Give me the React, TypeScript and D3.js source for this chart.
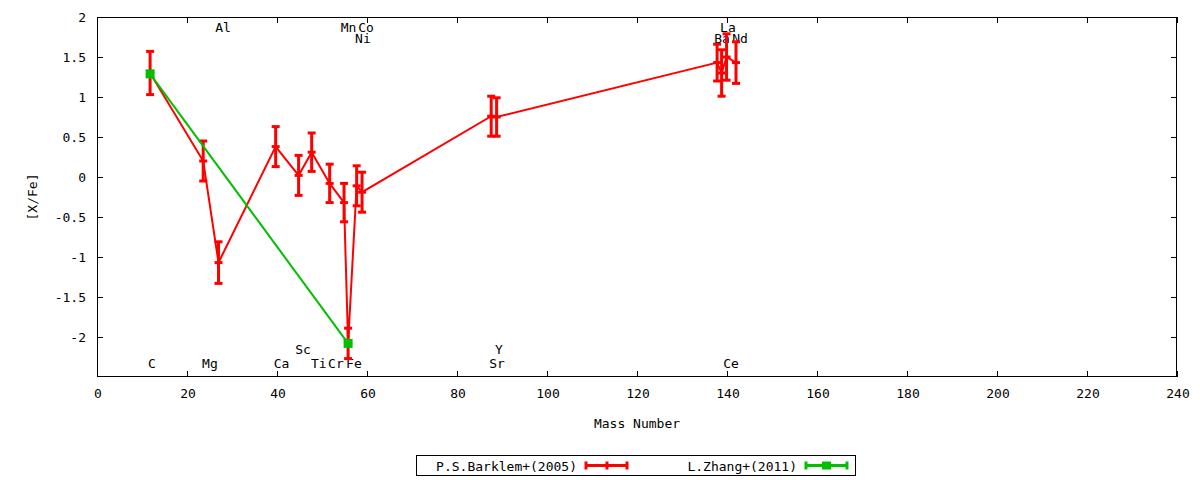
import React, { useEffect, useRef } from 'react';
import * as d3 from 'd3';

// P.S.Barklem+(2005)
const elements = ['C', 'Mg', 'Al', 'Ca', 'Sc', 'Ti', 'Cr', 'Mn', 'Fe', 'Co', 'Ni', 'Sr', 'Y', 'Ba', 'La', 'Ce', 'Nd'];
const barklemMass = [11.8, 23.6, 27.0, 39.7, 44.8, 47.7, 51.7, 54.9, 55.8, 57.7, 58.9, 87.6, 88.8, 137.8, 138.8, 139.9, 142.0];
const barklemValue = [1.30, 0.20, -1.07, 0.38, 0.02, 0.31, -0.08, -0.32, -2.08, -0.11, -0.19, 0.76, 0.75, 1.43, 1.30, 1.50, 1.43];
const barklemError = [0.27, 0.25, 0.26, 0.25, 0.25, 0.24, 0.24, 0.24, 0.19, 0.25, 0.25, 0.25, 0.24, 0.23, 0.29, 0.29, 0.26];

// L.Zhang+(2011)
const zhangMass = [11.8, 55.8];
const zhangValue = [1.29, -2.08];

// element name labels placed in data coordinates
const labelNames = ['C', 'Mg', 'Al', 'Ca', 'Sc', 'Ti', 'Cr', 'Fe', 'Mn', 'Co', 'Ni', 'Sr', 'Y', 'Ba', 'La', 'Nd', 'Ce'];
const labelX = [12.2, 25.1, 28.0, 41.0, 45.8, 49.3, 53.1, 57.1, 55.9, 59.8, 59.1, 88.9, 89.3, 138.9, 140.2, 142.9, 140.9];
const labelY = [-2.33, -2.33, 1.87, -2.33, -2.15, -2.33, -2.33, -2.33, 1.87, 1.87, 1.74, -2.33, -2.15, 1.74, 1.87, 1.74, -2.33];

const xTicks = [0, 20, 40, 60, 80, 100, 120, 140, 160, 180, 200, 220, 240];
const yTicks = [-2, -1.5, -1, -0.5, 0, 0.5, 1, 1.5, 2];

const seriesNames = ['P.S.Barklem+(2005)', 'L.Zhang+(2011)'];
const RED = '#ff0000';
const GREEN = '#00c000';
const FONT = '"DejaVu Sans Mono", monospace';

const App: React.FC = () => {
  const svgRef = useRef<SVGSVGElement>(null);

  useEffect(() => {
    if (!svgRef.current) return;
    const width = 1200;
    const height = 480;
    const margin = { top: 17, right: 23, bottom: 103, left: 97 };

    const svg = d3.select(svgRef.current);
    svg.selectAll('*').remove();

    const x = d3.scaleLinear().domain([0, 240]).range([margin.left, width - margin.right]);
    const y = d3.scaleLinear().domain([-2.5, 2]).range([height - margin.bottom, margin.top]);
    const [x0, x1] = x.range();
    const [y0, y1] = y.range();
    const tick = 6;

    svg.append('rect').attr('width', width).attr('height', height).attr('fill', '#fff');

    // ticks (mirrored, pointing inward)
    const ticks = svg.append('g').attr('stroke', '#000').attr('stroke-width', 1);
    xTicks.forEach(t => {
      const px = Math.round(x(t)) + 0.5;
      ticks.append('line').attr('x1', px).attr('x2', px).attr('y1', y0).attr('y2', y0 - tick);
      ticks.append('line').attr('x1', px).attr('x2', px).attr('y1', y1).attr('y2', y1 + tick);
    });
    yTicks.forEach(t => {
      const py = Math.round(y(t)) + 0.5;
      ticks.append('line').attr('x1', x0).attr('x2', x0 + tick).attr('y1', py).attr('y2', py);
      ticks.append('line').attr('x1', x1).attr('x2', x1 - tick).attr('y1', py).attr('y2', py);
    });

    const text = svg.append('g').attr('font-family', FONT).attr('font-size', 13).attr('fill', '#000');

    xTicks.forEach(t => {
      text.append('text').attr('x', x(t) + 1).attr('y', y0 + 21)
        .attr('text-anchor', 'middle').text(String(t));
    });
    yTicks.forEach(t => {
      text.append('text').attr('x', x0 - 11).attr('y', y(t) + 5)
        .attr('text-anchor', 'end').text(String(t));
    });

    text.append('text').attr('x', (x0 + x1) / 2).attr('y', y0 + 51)
      .attr('text-anchor', 'middle').text('Mass Number');
    text.append('text').attr('transform', `translate(37,${(y0 + y1) / 2}) rotate(-90)`)
      .attr('text-anchor', 'middle').text('[X/Fe]');

    // element labels
    labelNames.forEach((n, i) => {
      text.append('text').attr('x', x(labelX[i])).attr('y', y(labelY[i]) + 5)
        .attr('text-anchor', 'middle').text(n);
    });

    // Barklem series
    const line = d3.line<number>().x((_, i) => x(barklemMass[i])).y(d => y(d));
    const red = svg.append('g');
    red.append('path').datum(barklemValue).attr('d', line).attr('fill', 'none')
      .attr('stroke', RED).attr('stroke-width', 2);

    const cap = 4;
    elements.forEach((_, i) => {
      const px = x(barklemMass[i]);
      const top = y(barklemValue[i] + barklemError[i]);
      const bot = y(barklemValue[i] - barklemError[i]);
      const mid = y(barklemValue[i]);
      red.append('line').attr('x1', px).attr('x2', px).attr('y1', top).attr('y2', bot)
        .attr('stroke', RED).attr('stroke-width', 3);
      [top, bot, mid].forEach(py => {
        red.append('line').attr('x1', px - cap).attr('x2', px + cap).attr('y1', py).attr('y2', py)
          .attr('stroke', RED).attr('stroke-width', 3);
      });
    });

    // Zhang series
    const zline = d3.line<number>().x((_, i) => x(zhangMass[i])).y(d => y(d));
    const green = svg.append('g');
    green.append('path').datum(zhangValue).attr('d', zline).attr('fill', 'none')
      .attr('stroke', GREEN).attr('stroke-width', 2);
    zhangValue.forEach((v, i) => {
      green.append('rect').attr('x', x(zhangMass[i]) - 4.5).attr('y', y(v) - 4.5)
        .attr('width', 9).attr('height', 9).attr('fill', GREEN);
    });

    // border
    svg.append('rect').attr('x', x0 + 0.5).attr('y', y1 + 0.5)
      .attr('width', x1 - x0 - 1).attr('height', y0 - y1 - 1)
      .attr('fill', 'none').attr('stroke', '#000').attr('stroke-width', 1);

    // legend
    const lg = svg.append('g');
    lg.append('rect').attr('x', 416.5).attr('y', 455.5).attr('width', 439).attr('height', 20)
      .attr('fill', 'none').attr('stroke', '#000');
    const entries = [
      { name: seriesNames[0], color: RED, textEnd: 577, sx: 585, marker: 'tick' },
      { name: seriesNames[1], color: GREEN, textEnd: 797, sx: 805, marker: 'box' },
    ];
    entries.forEach(e => {
      const cy = 465.5;
      lg.append('text').attr('x', e.textEnd).attr('y', cy + 5).attr('text-anchor', 'end')
        .attr('font-family', FONT).attr('font-size', 13).text(e.name);
      lg.append('line').attr('x1', e.sx).attr('x2', e.sx + 43).attr('y1', cy).attr('y2', cy)
        .attr('stroke', e.color).attr('stroke-width', 3);
      [e.sx + 1, e.sx + 42].forEach(px => {
        lg.append('line').attr('x1', px).attr('x2', px).attr('y1', cy - 4).attr('y2', cy + 4)
          .attr('stroke', e.color).attr('stroke-width', 3);
      });
      if (e.marker === 'tick') {
        lg.append('line').attr('x1', e.sx + 22).attr('x2', e.sx + 22).attr('y1', cy - 4).attr('y2', cy + 4)
          .attr('stroke', e.color).attr('stroke-width', 3);
      } else {
        lg.append('rect').attr('x', e.sx + 17).attr('y', cy - 4).attr('width', 9).attr('height', 8)
          .attr('fill', e.color);
      }
    });
  }, []);

  return (
    <div style={{ position: 'fixed', left: 0, top: 0, width: 1200, height: 480, background: '#fff' }}>
      <svg ref={svgRef} width={1200} height={480} />
    </div>
  );
};

export default App;
